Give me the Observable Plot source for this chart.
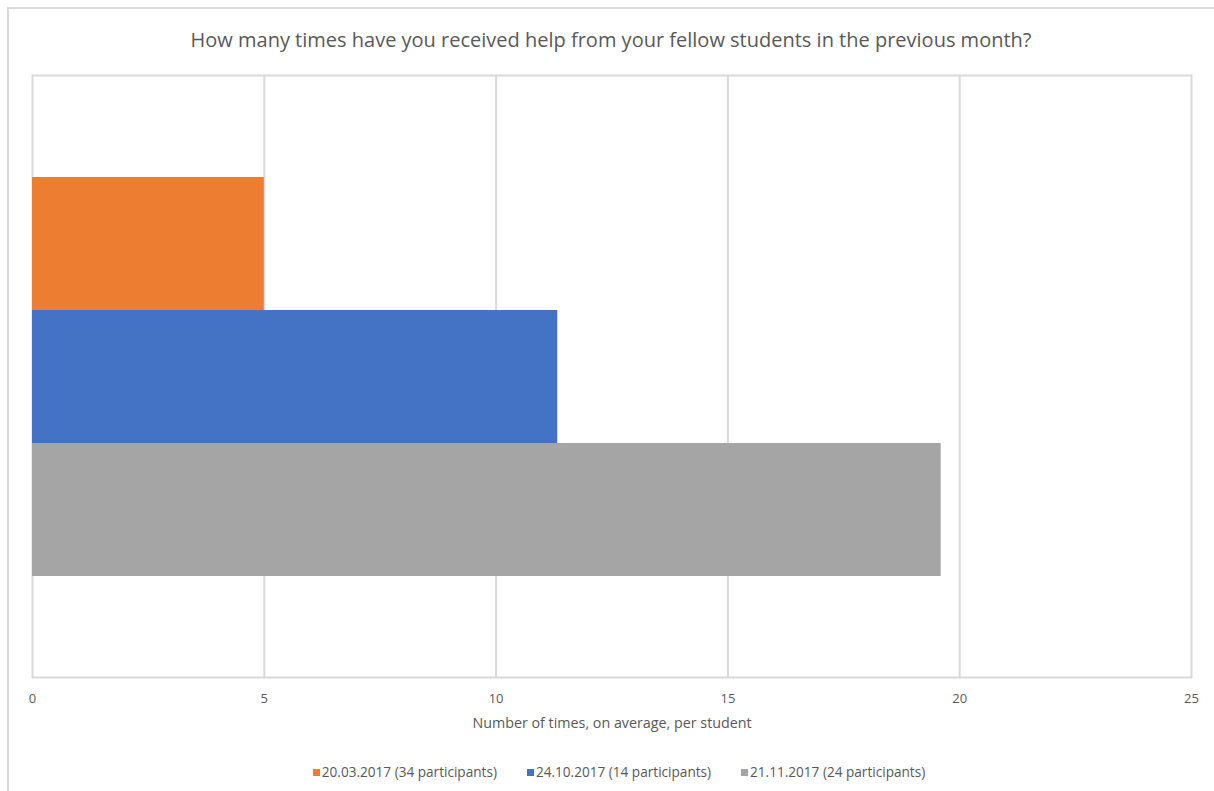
<!DOCTYPE html>
<html>
<head>
<meta charset="utf-8">
<script src="https://cdn.jsdelivr.net/npm/d3@7"></script>
<script src="https://cdn.jsdelivr.net/npm/@observablehq/plot@0.6"></script>
<style>
  html, body { margin: 0; padding: 0; background: #fff; }
  body { width: 1214px; height: 791px; position: relative; overflow: hidden; font-family: "Open Sans", sans-serif; color: #595959; }
  #border { position: absolute; left: 7px; top: 7px; width: 1230px; height: 820px; border: 2px solid #d9d9d9; box-sizing: border-box; }
  #title { position: absolute; left: 0; top: 27px; width: 1222px; text-align: center; font-size: 20px; line-height: 26px; }
  #chart { position: absolute; left: 0; top: 60px; }
  #legend { position: absolute; left: 0; top: 763px; width: 1238px; text-align: center; font-size: 13.6px; line-height: 18px; white-space: nowrap; }
  .item { display: inline-block; margin: 0 15px; }
  .sw { display: inline-block; width: 7px; height: 7px; margin-right: 2px; vertical-align: 1px; }
</style>
</head>
<body>
<div id="border"></div>
<div id="title">How many times have you received help from your fellow students in the previous month?</div>
<div id="chart"></div>
<div id="legend"></div>
<script>
const series = ["20.03.2017 (34 participants)", "24.10.2017 (14 participants)", "21.11.2017 (24 participants)"];
const values = [5.0, 11.33, 19.6];
const colors = ["#ed7d31", "#4472c4", "#a5a5a5"];
const xTicks = [0, 5, 10, 15, 20, 25];
const gridTicks = [5, 10, 15, 20];
const xLabel = "Number of times, on average, per student";

const data = series.map((s, i) => ({series: s, value: values[i]}));

const chart = Plot.plot({
  width: 1214,
  height: 680,
  marginLeft: 32,
  marginRight: 23,
  marginTop: 15,
  marginBottom: 63,
  style: {fontFamily: "Open Sans, sans-serif", color: "#595959", background: "transparent"},
  x: {domain: [0, 25], axis: null},
  y: {domain: series, axis: null, paddingInner: 0, paddingOuter: 0.75},
  color: {domain: series, range: colors},
  marks: [
    Plot.frame({stroke: "#d9d9d9", strokeWidth: 2}),
    Plot.ruleX(gridTicks, {x: d => d, stroke: "#d9d9d9", strokeWidth: 2}),
    Plot.barX(data, {x: "value", y: "series", fill: "series"}),
    Plot.axisX(xTicks, {tickSize: 0, tickPadding: 16, fontSize: 13, tickFormat: d => String(d), label: null}),
    Plot.axisX({ticks: [], tickSize: 0, fontSize: 14.3,
      label: xLabel, labelAnchor: "center", labelOffset: 50, labelArrow: "none"})
  ]
});
document.getElementById("chart").appendChild(chart);

const legend = document.getElementById("legend");
series.forEach((s, i) => {
  const item = document.createElement("span");
  item.className = "item";
  const sw = document.createElement("span");
  sw.className = "sw";
  sw.style.background = colors[i];
  item.appendChild(sw);
  item.appendChild(document.createTextNode(s));
  legend.appendChild(item);
});
</script>
</body>
</html>
